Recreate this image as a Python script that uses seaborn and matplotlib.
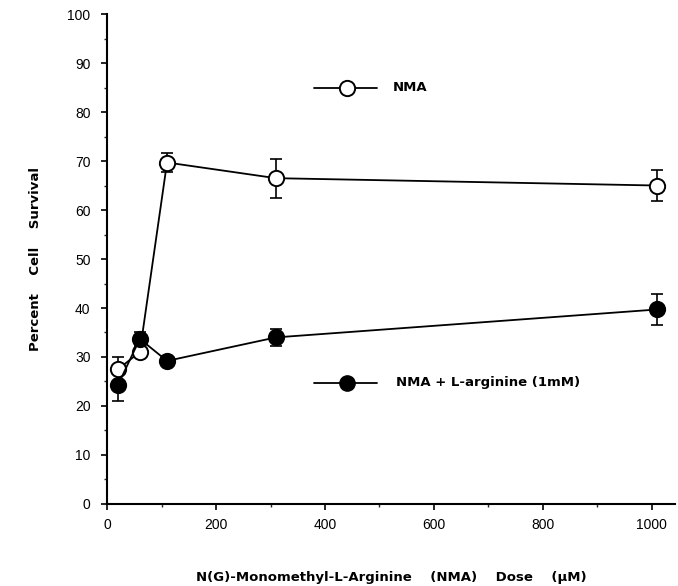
import numpy as np
import pandas as pd
import matplotlib.pyplot as plt
import seaborn as sns

# dose values (uM)
dose = [20, 60, 110, 310, 1010]
nma = [27.5, 31.0, 69.7, 66.5, 65.0]
nma_err = [2.5, 0.8, 2.0, 4.0, 3.2]
nma_arg = [24.3, 33.7, 29.2, 34.0, 39.7]
nma_arg_err = [3.3, 1.5, 1.0, 1.8, 3.1]

df = pd.DataFrame({
    'dose': dose * 2,
    'survival': nma + nma_arg,
    'group': ['NMA'] * len(dose) + ['NMA + L-arginine (1mM)'] * len(dose),
})

sns.set_style('ticks')
plt.rcParams['font.family'] = ['Liberation Sans', 'DejaVu Sans']
plt.rcParams['text.color'] = 'black'
plt.rcParams['axes.labelcolor'] = 'black'

label_font = dict(family=['DejaVu Sans'], fontweight='bold', fontsize=9.5)

fig, ax = plt.subplots(figsize=(6.78, 5.86), dpi=100)
fig.subplots_adjust(left=0.158, right=0.995, bottom=0.14, top=0.976)

# error bars first, then lines + markers on top
ax.errorbar(dose, nma, yerr=nma_err, fmt='none', ecolor='black',
            elinewidth=1.2, capsize=4, capthick=1.2, zorder=2)
ax.errorbar(dose, nma_arg, yerr=nma_arg_err, fmt='none', ecolor='black',
            elinewidth=1.2, capsize=4, capthick=1.2, zorder=2)

sns.lineplot(data=df[df['group'] == 'NMA'], x='dose', y='survival', ax=ax,
             color='black', lw=1.3, marker='o', markersize=11,
             markerfacecolor='white', markeredgecolor='black',
             markeredgewidth=1.4, zorder=3, legend=False)
sns.lineplot(data=df[df['group'] != 'NMA'], x='dose', y='survival', ax=ax,
             color='black', lw=1.3, marker='o', markersize=11,
             markerfacecolor='black', markeredgecolor='black',
             markeredgewidth=1.4, zorder=4, legend=False)

# hand-drawn style legend inside the axes
ax.plot([380, 495], [85, 85], color='black', lw=1.3)
ax.plot([440], [85], marker='o', markersize=11, markerfacecolor='white',
        markeredgecolor='black', markeredgewidth=1.4)
ax.text(525, 85, 'NMA', va='center', ha='left', **label_font)
ax.plot([380, 495], [24.7, 24.7], color='black', lw=1.3)
ax.plot([440], [24.7], marker='o', markersize=11, markerfacecolor='black',
        markeredgecolor='black')
ax.text(530, 24.7, 'NMA + L-arginine (1mM)', va='center', ha='left',
        **label_font)

ax.set_xlim(0, 1042)
ax.set_ylim(0, 100)
ax.set_xticks(np.arange(0, 1001, 200))
ax.set_xticks(np.arange(100, 1001, 200), minor=True)
ax.set_yticks(np.arange(0, 101, 10))
ax.set_yticks(np.arange(5, 100, 10), minor=True)
ax.tick_params(axis='both', which='major', direction='out', length=4,
               width=1.2, labelsize=10, colors='black')
ax.tick_params(axis='y', which='major', pad=8)
ax.tick_params(axis='x', which='major', pad=6)
ax.tick_params(axis='both', which='minor', direction='out', length=2.5,
               width=1.0)
ax.spines['top'].set_visible(False)
ax.spines['right'].set_visible(False)
for s in ['left', 'bottom']:
    ax.spines[s].set_linewidth(1.5)
    ax.spines[s].set_color('black')

ax.set_xlabel('N(G)-Monomethyl-L-Arginine    (NMA)    Dose    (\u03bcM)',
              labelpad=28, **label_font)
ax.set_ylabel('Percent    Cell    Survival', labelpad=18, **label_font)

plt.savefig('out.png', dpi=100)
